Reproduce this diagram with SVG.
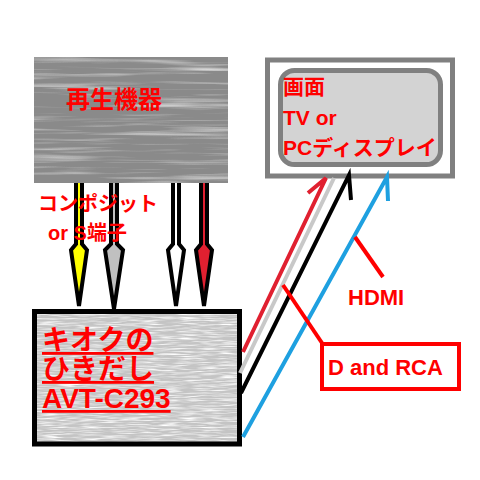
<svg xmlns="http://www.w3.org/2000/svg" width="480" height="480" viewBox="0 0 480 480">
<defs>
<filter id="streakDark" x="0" y="0" width="1" height="1">
<feTurbulence type="fractalNoise" baseFrequency="0.008 0.22" numOctaves="3" seed="4"/>
<feColorMatrix type="matrix" values="0 0 0 0 1  0 0 0 0 1  0 0 0 0 1  1.6 0 0 0 -0.82"/>
</filter>
<filter id="streakLight" x="0" y="0" width="1" height="1">
<feTurbulence type="fractalNoise" baseFrequency="0.05 0.7" numOctaves="2" seed="7"/>
<feColorMatrix type="matrix" values="0 0 0 0 1  0 0 0 0 1  0 0 0 0 1  2.6 0 0 0 -1.1"/>
</filter>
<filter id="streakGrey" x="0" y="0" width="1" height="1">
<feTurbulence type="fractalNoise" baseFrequency="0.08 0.9" numOctaves="1" seed="11"/>
<feColorMatrix type="matrix" values="0 0 0 0 0.6  0 0 0 0 0.6  0 0 0 0 0.6  -2.5 0 0 0 1.2"/>
</filter>
</defs>
<style>
.lbl{font-family:"Liberation Sans","Noto Sans CJK JP",sans-serif;font-weight:bold;fill:#ff0000}
.dn{stroke:#000;stroke-width:4;stroke-linejoin:miter}
.cn{fill:none;stroke-width:4;stroke-linecap:butt;stroke-linejoin:miter}
.call{fill:none;stroke:#ff0000;stroke-width:4}
</style>
<rect width="480" height="480" fill="#ffffff"/>

<g id="source">
<rect x="34" y="57" width="194" height="126" fill="#8a8a8a"/>
<rect x="34" y="57" width="194" height="126" filter="url(#streakDark)"/>
<text class="lbl" x="66" y="108" font-size="24">再生機器</text>
</g>

<g id="screen">
<rect x="267.5" y="60" width="185" height="116" fill="#ffffff" stroke="#808080" stroke-width="5"/>
<rect x="280.5" y="70.5" width="160" height="94" rx="14" fill="#d3d3d3" stroke="#808080" stroke-width="5"/>
<text class="lbl" x="283" y="94" font-size="21">画面</text>
<text class="lbl" x="283" y="125" font-size="21">TV or</text>
<text class="lbl" x="283" y="155" font-size="21">PCディスプレイ</text>
</g>

<g id="recorder">
<rect x="34.5" y="311.5" width="205" height="132.5" fill="#c4c4c4"/>
<rect x="34.5" y="311.5" width="205" height="132.5" filter="url(#streakLight)"/>
<rect x="34.5" y="311.5" width="205" height="132.5" filter="url(#streakGrey)"/>
<rect x="34.5" y="311.5" width="205" height="132.5" fill="none" stroke="#000" stroke-width="5"/>
<text class="lbl" x="42" y="350" font-size="28" text-decoration="underline">キオクの</text>
<text class="lbl" x="42" y="379" font-size="28" text-decoration="underline">ひきだし</text>
<text class="lbl" x="42" y="408" font-size="28" text-decoration="underline">AVT-C293</text>
</g>

<g id="connectors">
<path class="dn" fill="#ffff00" d="M76,183 V244 L71,250 L79,306 L87,250 L82,244 V183"/>
<path class="dn" fill="#c0c0c0" d="M111,183 V244 L105,250 L114,309 L123,250 L117,244 V183"/>
<path class="dn" fill="#ffffff" d="M173,183 V244 L168,250 L176,306 L184,250 L179,244 V183"/>
<path class="dn" fill="#e02030" d="M201,183 V244 L196,250 L204,306 L212,250 L207,244 V183"/>

<polyline class="cn" stroke="#e02030" points="243,352 326,178 308,193"/>
<polyline class="cn" stroke="#c8c8c8" points="240,373 334,178"/>
<polyline class="cn" stroke="#000000" points="241,393 349,175 351,200"/>
<polyline class="cn" stroke="#1ea0e0" points="243,437 387,177 388,201"/>

<line class="call" x1="322" y1="343" x2="283" y2="285"/>
<line class="call" x1="383" y1="277" x2="355" y2="237"/>
</g>

<g id="composite-label">
<text class="lbl" x="38" y="211" font-size="20">コンポジット</text>
<text class="lbl" x="48" y="240" font-size="20">or S端子</text>
</g>

<g id="d-rca">
<rect x="322" y="344" width="137" height="45" fill="#ffffff" stroke="#ff0000" stroke-width="4"/>
<text class="lbl" x="328" y="375" font-size="22">D and RCA</text>
</g>
<g id="hdmi">
<text class="lbl" x="348" y="305" font-size="22">HDMI</text>
</g>
</svg>
